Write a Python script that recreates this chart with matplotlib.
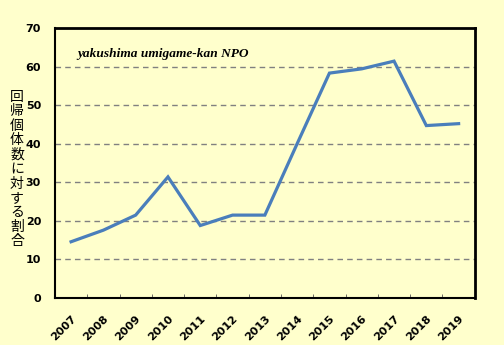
import matplotlib
matplotlib.use("Agg")
import matplotlib.pyplot as plt
import numpy as np

years = ["2007", "2008", "2009", "2010", "2011", "2012", "2013",
         "2014", "2015", "2016", "2017", "2018", "2019"]
ratio = [14.6, 17.6, 21.5, 31.4, 18.8, 21.5, 21.5,
         40.0, 58.3, 59.4, 61.4, 44.7, 45.2]
y_ticks = [0, 10, 20, 30, 40, 50, 60, 70]
y_label = "回帰個体数に対する割合"
note = "yakushima umigame-kan NPO"

bg = "#FFFFCC"
W, H = 504, 345
fig = plt.figure(figsize=(W / 100, H / 100), dpi=100, facecolor=bg)
ax = fig.add_axes([0.109, 0.136, 0.833, 0.783], facecolor=bg)

x = np.arange(len(years))
ax.plot(x, ratio, color="#4A7EBB", linewidth=2.3, solid_joinstyle="miter", zorder=3)

ax.set_xlim(-0.5, len(years) - 0.5)
ax.set_ylim(0, 70)
ax.set_yticks(y_ticks)
ax.set_yticklabels([str(v) for v in y_ticks], fontsize=8, fontweight="bold",
                   family="DejaVu Sans")
ax.tick_params(axis="y", length=0, pad=10)

# category labels at centres, tick marks on category boundaries
ax.set_xticks(x)
ax.set_xticklabels(years, fontsize=8, fontweight="bold", family="DejaVu Sans",
                   rotation=45, ha="right", va="top", rotation_mode="anchor")
ax.tick_params(axis="x", which="major", length=0, pad=11)
ax.set_xticks(np.arange(0.5, len(years) - 0.5, 1.0), minor=True)
ax.tick_params(axis="x", which="minor", length=3, direction="in", color="#555555")

for v in y_ticks[1:-1]:
    ax.axhline(v, color="#808080", linewidth=1.0, linestyle=(0, (4, 3)), zorder=1)

for side in ["left", "bottom"]:
    ax.spines[side].set_linewidth(1.5)
for side in ["top", "right"]:
    ax.spines[side].set_linewidth(2.0)

ax.text(0.053, 0.905, note, transform=ax.transAxes, fontsize=9.6,
        family="Liberation Serif", fontweight="bold", fontstyle="italic",
        ha="left", va="center")

# vertical stacked Japanese axis label, one glyph per row
top_px, step_px = 96.5, 14.5
for i, ch in enumerate(y_label):
    fig.text(17 / W, 1 - (top_px + i * step_px) / H, ch, ha="center", va="center",
             fontsize=10, family=["Noto Sans CJK JP", "DejaVu Sans"])

fig.savefig("out.png", dpi=100, facecolor=bg)
